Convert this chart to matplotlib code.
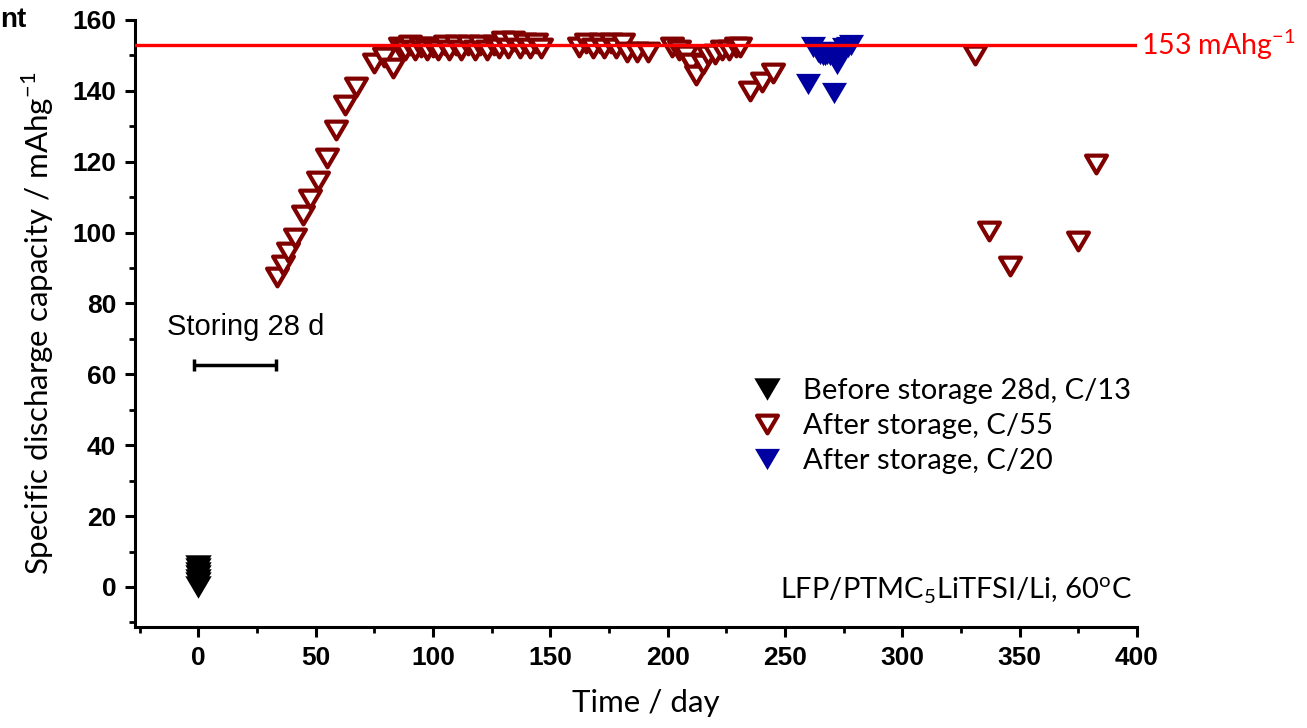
import matplotlib
matplotlib.use("Agg")
import matplotlib.pyplot as plt
from matplotlib.path import Path
from matplotlib.ticker import MultipleLocator

# ---- data ----
before_days = [0, 0, 0, 0, 0, 0, 0]
before_cap = [0, 1, 2, 3, 4, 5, 6]

c55_days = [33.5, 36, 38, 41, 44.5, 47.5, 51, 55, 58.5, 62.5, 67, 75, 79, 83,
            86, 88, 90, 92.5, 95, 97.5, 100, 102, 105, 107, 110, 112, 115, 118, 120, 123,
            126, 128, 130, 132, 134, 137, 139, 141.5, 144, 146,
            162, 165, 168, 171, 173, 176, 178, 181, 182.5, 187, 191.5,
            202, 205, 208, 210, 212, 215, 217, 220, 223, 226, 229, 231,
            235, 240, 245,
            331, 337, 346, 375, 382.5]
c55_cap = [87.5, 91, 94.5, 98.5, 105, 109.5, 114.5, 121, 129, 136, 141, 148, 149.5, 146.5,
           152.5, 151.5, 153, 151.5, 152.5, 151.5, 152.5, 151.5, 153, 151.5, 153, 151.5, 153, 151.5, 153, 151.5,
           153, 152, 154, 152, 154, 152, 153.5, 152, 153.5, 152,
           152.5, 153.5, 152, 153.5, 152, 153.5, 152, 153.5, 151, 151, 151,
           152.5, 151.5, 150, 148, 144.5, 147.5, 150, 150.5, 151.5, 151.5, 152.5, 152.5,
           140, 142.5, 145,
           150, 100.5, 90.5, 97.5, 119.5]

c20_days = [260, 262, 264, 265, 266, 267, 268, 269, 270, 271, 272, 273, 274, 275, 277, 278]
c20_cap = [142, 152.5, 151, 150.5, 150, 150, 150.5, 150, 151, 139.5, 147.5, 150, 151, 152, 152.5, 153]

theoretical = 153
storing_bar = [-2, 33]
storing_y = 62.6

xticks = [0, 50, 100, 150, 200, 250, 300, 350, 400]
yticks = [0, 20, 40, 60, 80, 100, 120, 140, 160]

# ---- style ----
tri = Path([(-1, 0.85), (1, 0.85), (0, -0.85), (-1, 0.85)],
           [Path.MOVETO, Path.LINETO, Path.LINETO, Path.CLOSEPOLY])

fig = plt.figure(figsize=(13.07, 7.28), dpi=100)
ax = fig.add_axes([135/1307, (728-627)/728, (1137-135)/1307, (627-20)/728])

ax.plot(before_days, before_cap, linestyle='none', marker=tri, markersize=19,
        color='black', markeredgewidth=0, label='Before storage 28d, C/13', zorder=3)
ax.plot(c55_days, c55_cap, linestyle='none', marker=tri, markersize=15,
        markerfacecolor='white', markeredgecolor='#800000', markeredgewidth=3,
        label='After storage, C/55', zorder=3)
ax.plot(c20_days, c20_cap, linestyle='none', marker=tri, markersize=18,
        color='#0000A0', markeredgewidth=0, label='After storage, C/20', zorder=4)

ax.axhline(theoretical, color='#FF0000', linewidth=2.4, zorder=5)
ax.text(1.004, theoretical, f"{theoretical} mAhg$^{{\\mathregular{{-1}}}}$", transform=ax.get_yaxis_transform(),
        color='#FF0000', fontsize=20.5, family=['Lato', 'DejaVu Sans'], va='center', ha='left', clip_on=False)

mid = (storing_bar[0] + storing_bar[1]) / 2
half = (storing_bar[1] - storing_bar[0]) / 2
ax.errorbar([mid], [storing_y], xerr=[half], color='black', linewidth=2.5,
            capsize=4, capthick=2.5, fmt='none')
ax.text(20, 73.5, "Storing 28 d", fontsize=21, family='Liberation Sans',
        ha='center', va='center')

ax.text(0.995, 0.035, r"LFP/PTMC$_\mathregular{5}$LiTFSI/Li, 60$^\mathregular{o}$C",
        transform=ax.transAxes, fontsize=21, family='Lato', ha='right', va='bottom')

ax.set_xlim(-27, 400)
ax.set_ylim(-11.3, 160)
ax.set_xticks(xticks)
ax.set_yticks(yticks)
ax.xaxis.set_minor_locator(MultipleLocator(25))
ax.yaxis.set_minor_locator(MultipleLocator(10))
for s in ['top', 'right']:
    ax.spines[s].set_visible(False)
for s in ['left', 'bottom']:
    ax.spines[s].set_linewidth(2.2)
ax.tick_params(which='major', length=7.5, width=2.2, pad=6)
ax.tick_params(which='minor', length=4, width=2.0)
for lab in ax.get_xticklabels() + ax.get_yticklabels():
    lab.set_fontfamily('Liberation Sans')
    lab.set_fontweight('bold')
    lab.set_fontsize(19)

ax.set_xlabel("Time / day", fontsize=22.5, family='Lato', labelpad=14, x=0.51)
ax.set_ylabel(r"Specific discharge capacity / mAhg$^\mathregular{-1}$", fontsize=22.5,
              family='Lato', labelpad=12)

leg = ax.legend(loc='center left', bbox_to_anchor=(0.59, 0.331), frameon=False,
                prop={'family': 'Lato', 'size': 21}, handletextpad=0.75,
                labelspacing=0.3, handlelength=1.0)

fig.text(0.0, 0.972, "nt", fontsize=20, fontweight='bold', family='Liberation Sans',
         ha='left', va='center')

fig.savefig("out.png", dpi=100)
